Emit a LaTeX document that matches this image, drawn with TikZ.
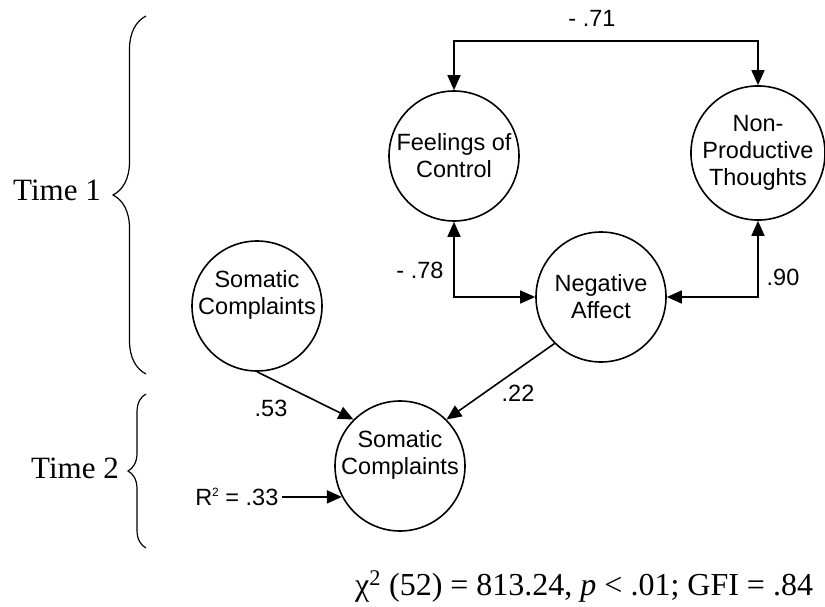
\documentclass[tikz,border=0pt]{standalone}
\usepackage{fontspec}
\setmainfont{Liberation Serif}
\setsansfont{Liberation Sans}
\usetikzlibrary{arrows.meta}
\usetikzlibrary{positioning}
\usetikzlibrary{decorations.pathreplacing}
\tikzset {
  link/.style = {
    draw = black,
    line width = 1.6pt,
    > = {Triangle[length = 15pt, width = 13pt]}
  },
  % one-headed path
  reg/.style = {
    link,
    ->
  },
  % two-headed path
  cov/.style = {
    link,
    <->
  },
  % curly bracket for the time points
  bracket/.style = {
    draw = black,
    line width = 1.2pt,
    decorate,
    decoration = {brace, amplitude = #1}
  }
}
\tikzset {
  sans text/.style = {
    font = \sffamily\fontsize{23.5}{27}\selectfont
  },
  % latent variable
  latent/.style = {
    sans text,
    draw = black,
    line width = 1.6pt,
    circle,
    minimum size = 130pt,
    inner sep = 0,
    align = center
  },
  % text set a little above the centre
  raised/.style = {
    label = {[sans text, align = center, yshift = 11pt]center:#1}
  },
  % path coefficient
  coef/.style = {
    sans text
  },
  time label/.style = {
    font = \fontsize{31}{36}\selectfont
  },
  fit label/.style = {
    font = \fontsize{32}{36}\selectfont,
    inner sep = 0
  },
  node distance = 0.5cm
}
\begin{document}
\begin{tikzpicture}[x = 1pt, y = -1pt]
    \useasboundingbox (0,0) rectangle (825,607);

    \node[latent] (control) at (454,156) {Feelings of\\Control};
    \node[latent] (thoughts) at (758,153) {Non-\\Productive\\Thoughts};
    \node[latent] (affect) at (601,297) {Negative\\Affect};
    \node[latent, raised = {Somatic\\Complaints}] (soma one) at (257,306) {};
    \node[latent, raised = {Somatic\\Complaints}] (soma two) at (400,466) {};
    \coordinate (cov top) at (600,41);

    \node[coef] (r71) at (592,18) {- .71};
    \node[coef] (r78) at (420,270) {- .78};
    \node[coef] (r90) at (783,277) {.90};
    \node[coef] (b53) at (271,408) {.53};
    \node[coef] (b22) at (518,393) {.22};
    \node[coef] (rsq) [left = 60pt of soma two.208]
      {R\raisebox{9pt}{\fontsize{12}{12}\selectfont 2} = .33};

    \draw[cov] (control.north) |- (cov top) -| (thoughts.north);
    \draw[cov] (control.south) |- (affect.west);
    \draw[cov] (thoughts.south) |- (affect.east);

    \draw[reg] (soma one.south) -- (soma two.135);
    \draw[reg] (affect.225) -- (soma two.45);
    \draw[reg] (rsq) -- (soma two.208);

    % time points
    \coordinate (one top) at (146,16);
    \coordinate (one bottom) at (146,374);
    \coordinate (two top) at (146,394);
    \coordinate (two bottom) at (146,548);
    \draw[bracket = 33pt] (one bottom) -- (one top);
    \draw[bracket = 18pt] (two bottom) -- (two top);
    \node[time label] (time one) at (57,190) {Time 1};
    \node[time label] (time two) at (75,468) {Time 2};

    \node[fit label, anchor = base west] (fit) at (355,595)
      {χ\textsuperscript{2} (52) = 813.24, \textit{p} < .01; GFI = .84};
\end{tikzpicture}
\end{document}
